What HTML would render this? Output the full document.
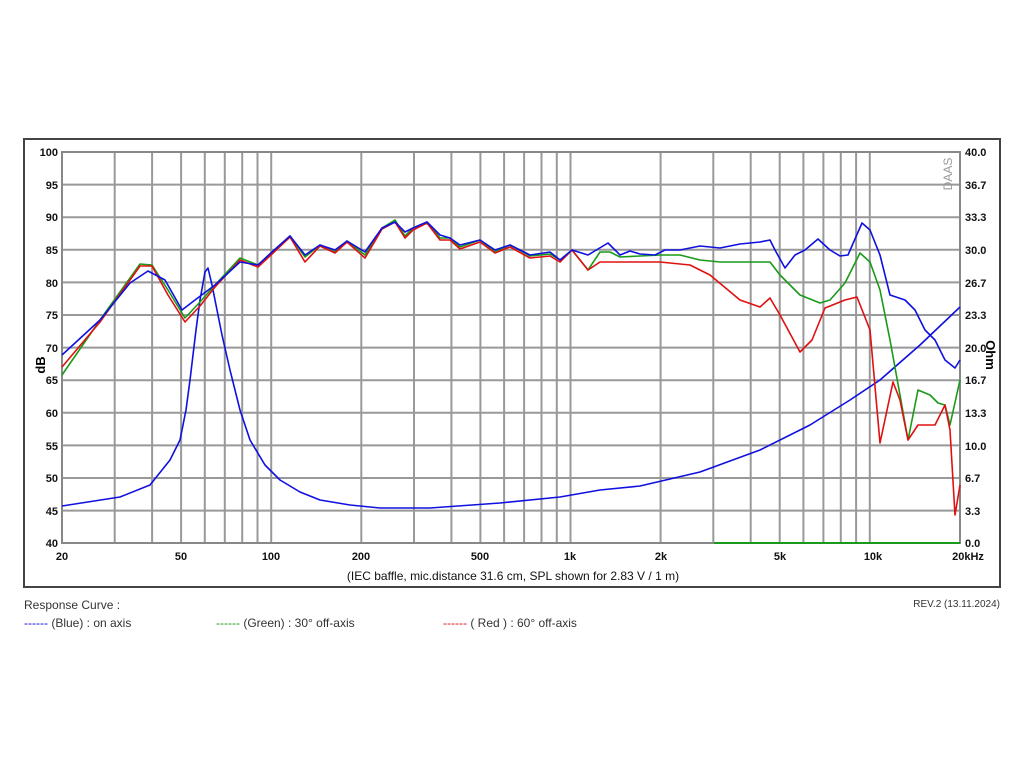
<!DOCTYPE html>
<html><head><meta charset="utf-8"><style>
body{margin:0;background:#fff;width:1024px;height:768px;overflow:hidden;font-family:"Liberation Sans",Arial,sans-serif}
</style></head><body>
<svg width="1024" height="768" xmlns="http://www.w3.org/2000/svg" font-family="Liberation Sans, Arial, sans-serif">
<rect x="24" y="139" width="976" height="448" fill="#fff" stroke="#444" stroke-width="2"/>
<g stroke="#999" stroke-width="2">
<line x1="114.7" y1="152" x2="114.7" y2="543"/><line x1="152.1" y1="152" x2="152.1" y2="543"/>
<line x1="181.1" y1="152" x2="181.1" y2="543"/><line x1="204.8" y1="152" x2="204.8" y2="543"/>
<line x1="224.8" y1="152" x2="224.8" y2="543"/><line x1="242.2" y1="152" x2="242.2" y2="543"/>
<line x1="257.5" y1="152" x2="257.5" y2="543"/><line x1="271.2" y1="152" x2="271.2" y2="543"/>
<line x1="361.3" y1="152" x2="361.3" y2="543"/><line x1="414" y1="152" x2="414" y2="543"/>
<line x1="451.4" y1="152" x2="451.4" y2="543"/><line x1="480.4" y1="152" x2="480.4" y2="543"/>
<line x1="504.1" y1="152" x2="504.1" y2="543"/><line x1="524.1" y1="152" x2="524.1" y2="543"/>
<line x1="541.5" y1="152" x2="541.5" y2="543"/><line x1="556.8" y1="152" x2="556.8" y2="543"/>
<line x1="570.5" y1="152" x2="570.5" y2="543"/><line x1="660.6" y1="152" x2="660.6" y2="543"/>
<line x1="713.3" y1="152" x2="713.3" y2="543"/><line x1="750.7" y1="152" x2="750.7" y2="543"/>
<line x1="779.7" y1="152" x2="779.7" y2="543"/><line x1="803.4" y1="152" x2="803.4" y2="543"/>
<line x1="823.4" y1="152" x2="823.4" y2="543"/><line x1="840.8" y1="152" x2="840.8" y2="543"/>
<line x1="856.1" y1="152" x2="856.1" y2="543"/><line x1="869.8" y1="152" x2="869.8" y2="543"/>
<line x1="62" y1="184.6" x2="960" y2="184.6"/><line x1="62" y1="217.2" x2="960" y2="217.2"/>
<line x1="62" y1="249.8" x2="960" y2="249.8"/><line x1="62" y1="282.4" x2="960" y2="282.4"/>
<line x1="62" y1="315" x2="960" y2="315"/><line x1="62" y1="347.6" x2="960" y2="347.6"/>
<line x1="62" y1="380.2" x2="960" y2="380.2"/><line x1="62" y1="412.8" x2="960" y2="412.8"/>
<line x1="62" y1="445.4" x2="960" y2="445.4"/><line x1="62" y1="478" x2="960" y2="478"/>
<line x1="62" y1="510.6" x2="960" y2="510.6"/>
</g>
<rect x="62" y="152" width="898" height="391" fill="none" stroke="#888" stroke-width="2"/>
<line x1="714" y1="543" x2="960" y2="543" stroke="#1a9a1a" stroke-width="2"/>
<g font-size="11" font-weight="bold" text-anchor="end" fill="#111">
<text x="58" y="156">100</text><text x="58" y="189">95</text><text x="58" y="221">90</text>
<text x="58" y="254">85</text><text x="58" y="287">80</text><text x="58" y="319">75</text>
<text x="58" y="352">70</text><text x="58" y="384">65</text><text x="58" y="417">60</text>
<text x="58" y="450">55</text><text x="58" y="482">50</text><text x="58" y="515">45</text>
<text x="58" y="547">40</text>
</g>
<g font-size="11" font-weight="bold" fill="#111">
<text x="965" y="156">40.0</text><text x="965" y="189">36.7</text><text x="965" y="221">33.3</text>
<text x="965" y="254">30.0</text><text x="965" y="287">26.7</text><text x="965" y="319">23.3</text>
<text x="965" y="352">20.0</text><text x="965" y="384">16.7</text><text x="965" y="417">13.3</text>
<text x="965" y="450">10.0</text><text x="965" y="482">6.7</text><text x="965" y="515">3.3</text>
<text x="965" y="547">0.0</text>
</g>
<g font-size="11" font-weight="bold" text-anchor="middle" fill="#111">
<text x="62" y="560">20</text><text x="181" y="560">50</text><text x="271" y="560">100</text>
<text x="361" y="560">200</text><text x="480" y="560">500</text><text x="570" y="560">1k</text>
<text x="661" y="560">2k</text><text x="780" y="560">5k</text><text x="873" y="560">10k</text>
<text x="968" y="560">20kHz</text>
</g>
<text x="45" y="365" font-size="13" font-weight="bold" transform="rotate(-90 45 365)" text-anchor="middle">dB</text>
<text x="986" y="355" font-size="13" font-weight="bold" transform="rotate(90 986 355)" text-anchor="middle">Ohm</text>
<text x="946" y="168" font-size="12" fill="#999" transform="rotate(-90 952 168)" text-anchor="middle">DAAS</text>
<text x="513" y="580" font-size="12" text-anchor="middle" fill="#111">(IEC baffle, mic.distance 31.6 cm, SPL shown for 2.83 V / 1 m)</text>
<g fill="none" stroke-width="1.6" stroke-linejoin="round">
<polyline stroke="#1010e0" points="62,506 120,497 150,485 170,460 180,440 186,410 190,380 196,330 200,300 205,272 208,268 212,285 215,300 222,335 230,370 240,410 250,440 265,465 280,480 300,492 320,500 350,505 380,508 430,508 500,503 560,497 600,490 640,486 700,472 760,450 810,425 850,400 880,380 920,345 960,307"/>
<polyline stroke="#1a9a1a" points="62,375 100,320 140,264 152,265 168,290 185,318 200,302 215,285 240,258 258,265 272,252 290,236 305,257 320,245 335,252 347,241 365,255 382,228 395,220 405,236 413,228 427,222 440,238 450,238 460,247 480,240 495,252 510,245 530,256 550,254 560,260 572,250 588,270 600,252 610,252 620,257 660,255 680,255 700,260 720,262 750,262 770,262 780,275 800,295 820,303 830,300 845,283 860,253 870,262 880,290 890,340 900,395 908,440 918,390 930,395 938,403 945,405 950,425 960,380"/>
<polyline stroke="#e01010" points="62,367 100,322 140,266 152,266 168,295 185,322 200,306 215,287 240,260 258,267 272,254 290,237 305,262 320,246 335,253 347,242 365,258 382,229 395,222 405,238 413,230 427,223 440,240 450,240 460,249 480,242 495,253 510,247 530,258 550,256 560,262 572,250 588,270 600,262 620,262 660,262 690,265 710,275 740,300 760,307 770,298 780,315 800,352 812,340 825,308 845,300 857,297 870,330 880,443 893,382 900,400 908,440 918,425 935,425 945,405 950,430 955,515 960,485"/>
<polyline stroke="#1010e0" points="62,355 100,320 130,283 148,271 165,280 182,310 195,300 215,285 240,262 258,265 272,252 290,236 305,255 320,245 335,250 347,241 365,252 382,228 395,222 405,232 413,228 427,222 440,235 450,238 460,245 480,240 495,250 510,245 530,255 550,252 560,260 572,250 588,255 608,243 620,255 630,251 640,254 655,255 665,250 680,250 700,246 720,248 740,244 760,242 770,240 775,250 785,268 795,255 805,250 818,239 830,250 840,256 848,255 862,223 870,230 880,255 890,295 905,300 915,310 925,330 935,340 945,360 955,368 960,360"/>
</g>
<g font-size="12" fill="#333">
<text x="24" y="609">Response Curve :</text>
<text x="24" y="627"><tspan fill="#1010e0">------</tspan> (Blue)  : on axis</text>
<text x="216" y="627"><tspan fill="#1a9a1a">------</tspan> (Green) : 30° off-axis</text>
<text x="443" y="627"><tspan fill="#e01010">------</tspan> ( Red ) : 60° off-axis</text>
<text x="1000" y="607" font-size="10" text-anchor="end">REV.2 (13.11.2024)</text>
</g>
</svg>
</body></html>
